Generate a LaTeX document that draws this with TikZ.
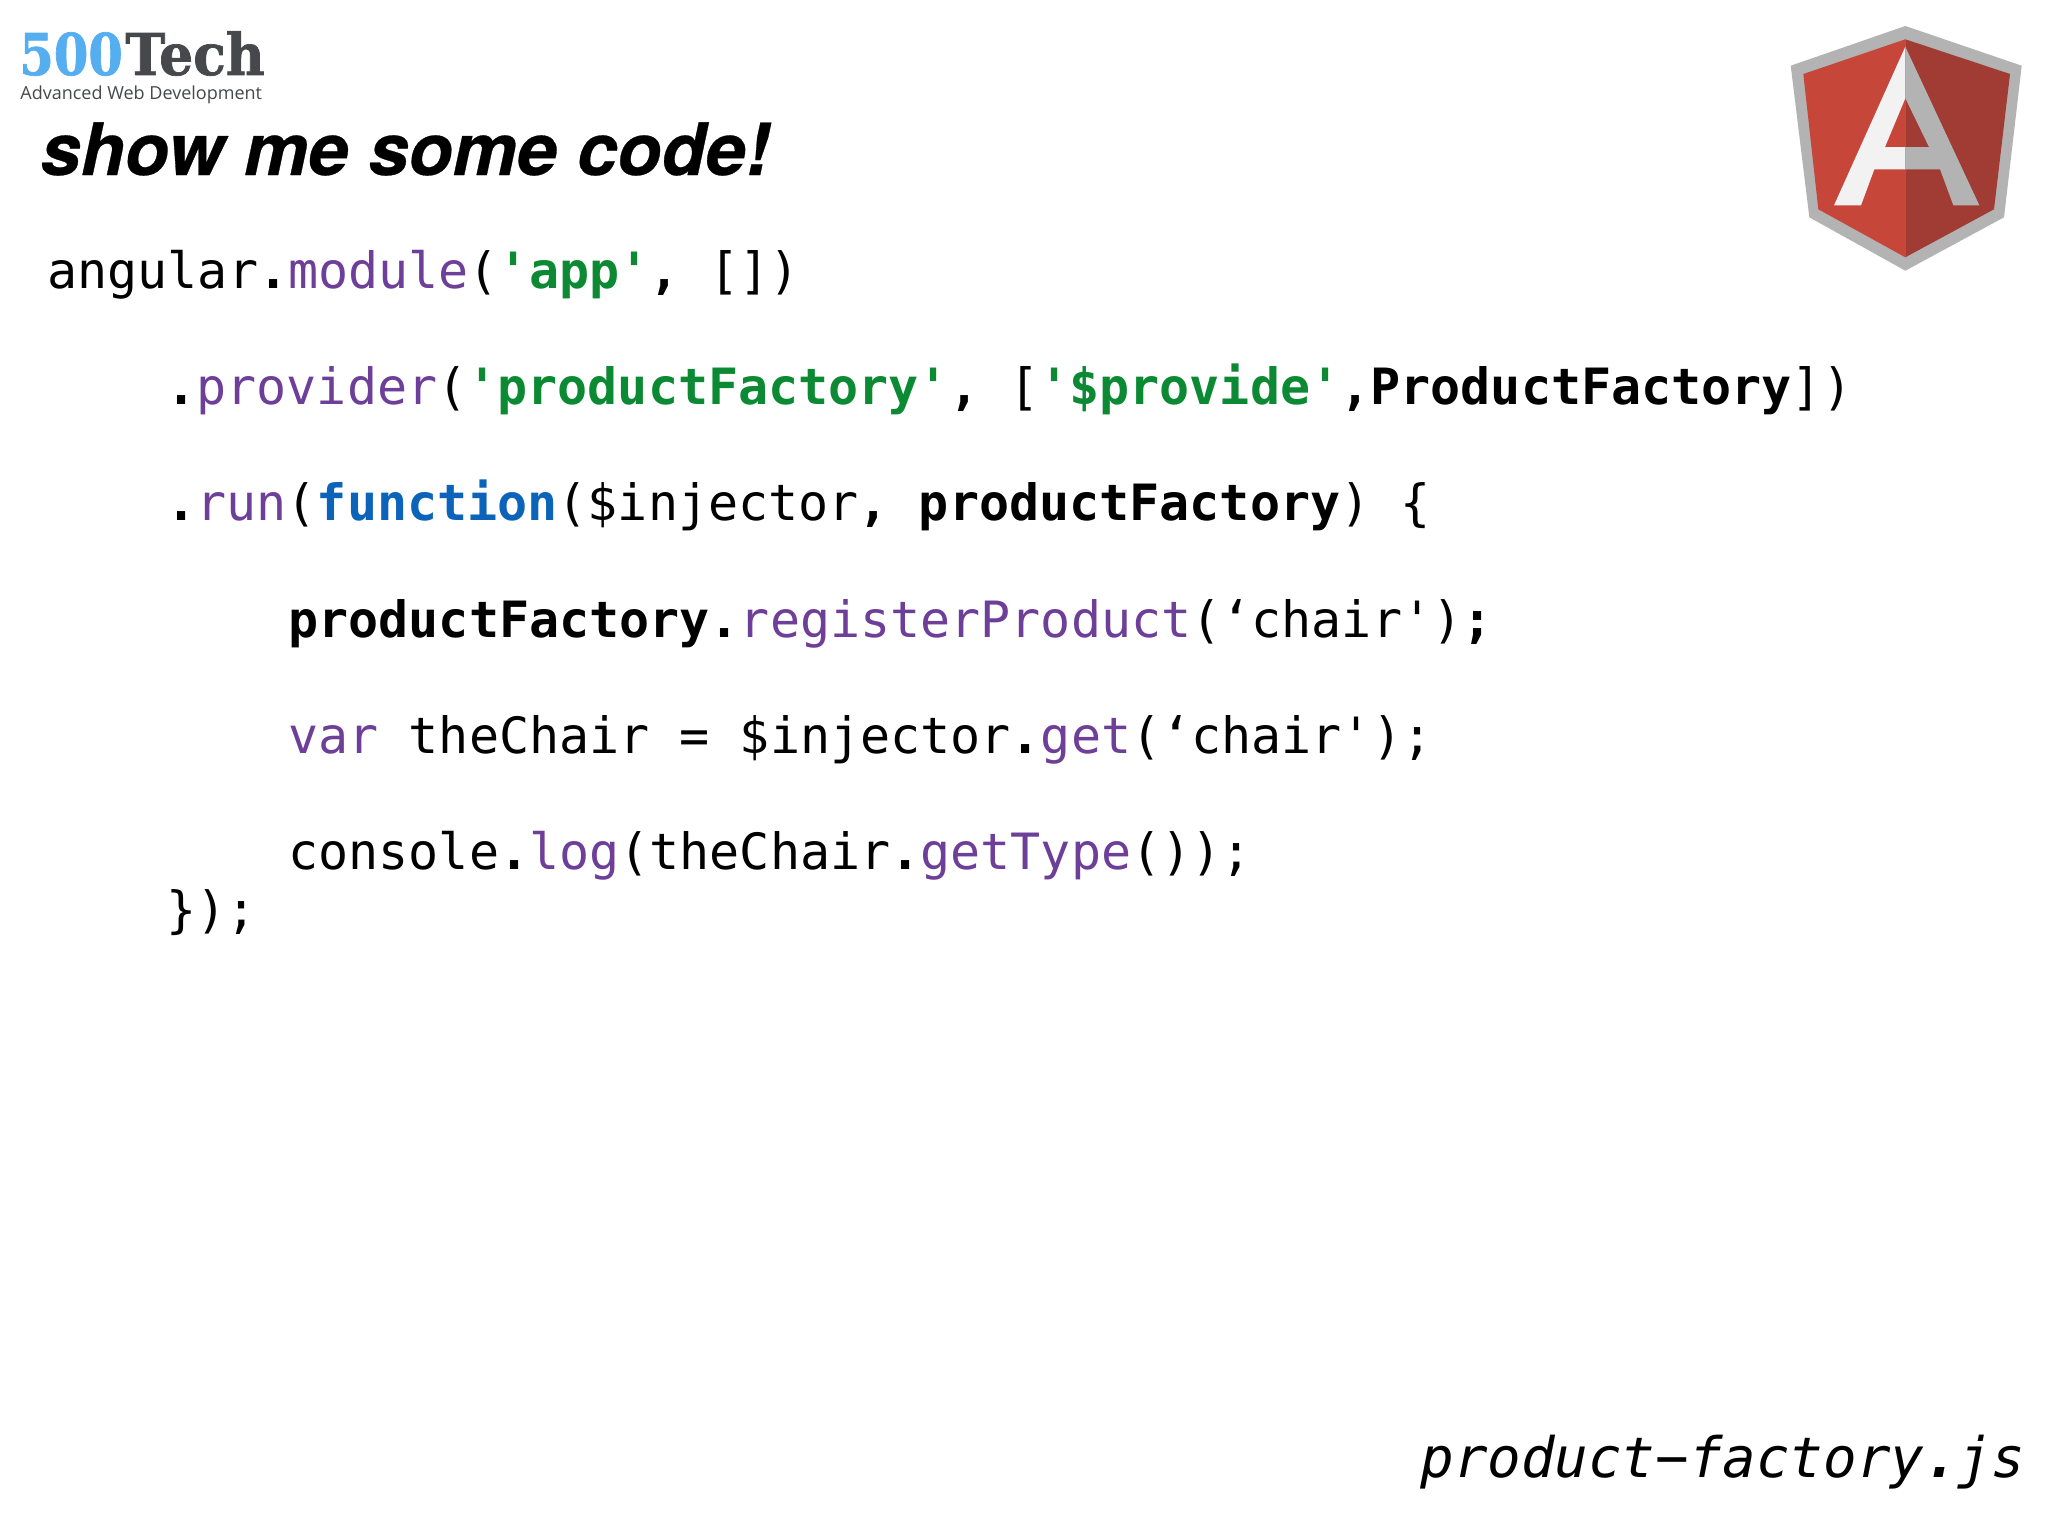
\documentclass[tikz,border=0pt]{standalone}
\usepackage{fontspec}
\setmainfont{Liberation Sans}
\setmonofont{DejaVu Sans Mono}
\newfontfamily\fivefont[FakeStretch=0.86,FakeBold=1.2]{DejaVu Serif}
\newfontfamily\techfont[FakeStretch=0.93,FakeBold=1.2]{DejaVu Serif}
\newfontfamily\titlefont[FakeBold=0.4]{TeX Gyre Heros}
\definecolor{kwpurple}{HTML}{6E3F98}
\definecolor{strgreen}{HTML}{0B8A33}
\definecolor{fnblue}{HTML}{0B63BA}
\definecolor{logoblue}{HTML}{55AEF0}
\definecolor{logodark}{HTML}{46484B}
\definecolor{sred}{HTML}{C6463A}
\definecolor{sdark}{HTML}{A03C33}
\definecolor{sgrey}{HTML}{B3B3B3}
\definecolor{swhite}{HTML}{F2F2F2}
\newcommand{\pu}[1]{\textcolor{kwpurple}{#1}}
\newcommand{\gr}[1]{\textcolor{strgreen}{\bfseries #1}}
\newcommand{\bl}[1]{\textcolor{fnblue}{\bfseries #1}}
\newcommand{\bo}[1]{{\bfseries #1}}
\tikzset{
 codeline/.style={anchor=base west,inner sep=0pt,font=\fontsize{25pt}{30pt}\ttfamily},
 plain/.style={anchor=base west,inner sep=0pt},
}
\begin{document}
\begin{tikzpicture}[x=0.5pt,y=-0.5pt]
\useasboundingbox (0,0) rectangle (2048,1536);
\fill[white] (0,0) rectangle (2048,1536);
% logo
\node[plain,font=\fontsize{28.8pt}{30pt}\fivefont\bfseries,text=logoblue] (five) at (19,75) {500};
\node[plain,font=\fontsize{28.8pt}{30pt}\techfont\bfseries,text=logodark] (tech) at (125,75) {Tech};
\node[plain,font=\fontsize{9pt}{11pt}\fontspec{Open Sans},text=logodark] (sub) at (20,99) {Advanced Web Development};
% title
\node[plain,font=\fontsize{36.1pt}{40pt}\titlefont\bfseries\itshape] (title) at (40,175) {show me some code!};
% shield
\fill[sgrey] (1905.3,26)--(2021.7,65.7)--(2004,217.3)--(1905.3,270.7)--(1809.3,217.3)--(1790.7,65.7)--cycle;
\fill[sred] (1905.3,39.3)--(1905.3,257.3)--(1818.3,209.3)--(1803.3,74)--cycle;
\fill[sdark] (1905.3,39.3)--(2010,74)--(1994,209.3)--(1905.3,257.3)--cycle;
\fill[swhite] (1905.3,46.7)--(1905.3,98.3)--(1885,147)--(1905.3,147)--(1905.3,169.3)--(1874.3,169.3)--(1861,205.3)--(1834,205.3)--cycle;
\fill[sgrey] (1905.3,46.7)--(1979.3,205.3)--(1953.3,205.3)--(1940,169.3)--(1905.3,169.3)--(1905.3,147)--(1929,147)--(1905.3,98.3)--cycle;
% code
\node[codeline] (l1) at (47,288) {angular\bo{.}\pu{module}(\gr{'app'}\bo{,} [])};
\node[codeline] (l2) at (166,404) {\bo{.}\pu{provider}(\gr{'productFactory'}\bo{,} [\gr{'\$provide'}\bo{,ProductFactory}])};
\node[codeline] (l3) at (166,520) {\bo{.}\pu{run}(\bl{function}(\$injector\bo{,} \bo{productFactory}) \{};
\node[codeline] (l4) at (288,637) {\bo{productFactory.}\pu{registerProduct}(‘chair')\bo{;}};
\node[codeline] (l5) at (288,753) {\pu{var} theChair = \$injector\bo{.}\pu{get}(‘chair');};
\node[codeline] (l6) at (288,869) {console\bo{.}\pu{log}(theChair\bo{.}\pu{getType}());};
\node[codeline] (l7) at (166,927) {\});};
% file name
\node[plain,font=\fontsize{27.9pt}{32pt}\ttfamily\itshape] (file) at (1420,1477) {product−factory\bo{.}js};
\end{tikzpicture}
\end{document}
